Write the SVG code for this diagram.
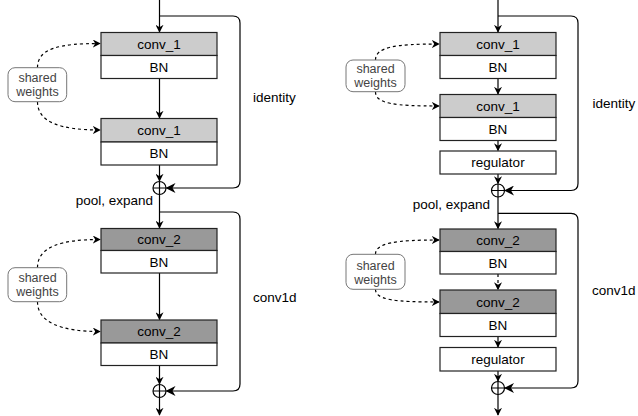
<svg xmlns="http://www.w3.org/2000/svg" width="638" height="416" viewBox="0 0 638 416">
<defs>
<marker id="arr" viewBox="0 0 10 10" refX="9" refY="5" markerWidth="8" markerHeight="8" markerUnits="userSpaceOnUse" orient="auto">
<path d="M0,0 L10,5 L0,10 L3,5 z" fill="#000"/>
</marker>
<marker id="arrBig" viewBox="0 0 10 10" refX="9" refY="5" markerWidth="10" markerHeight="10" markerUnits="userSpaceOnUse" orient="auto">
<path d="M0,0 L10,5 L0,10 L3,5 z" fill="#000"/>
</marker>
</defs>
<style>
.t{font-family:"Liberation Sans",Arial,Helvetica,sans-serif;font-size:13.5px;fill:#000;}
.c{text-anchor:middle;dominant-baseline:central;}
.sw{font-family:"Liberation Sans",Arial,Helvetica,sans-serif;font-size:12.5px;fill:#444;text-anchor:middle;}
.l{fill:none;stroke:#000;stroke-width:1.2;}
.d{fill:none;stroke:#000;stroke-width:1.2;stroke-dasharray:3 3;}
.g1{fill:#cccccc;stroke:#222;stroke-width:1.2;}
.g2{fill:#999999;stroke:#222;stroke-width:1.2;}
.w{fill:#fff;stroke:#222;stroke-width:1.2;}
.swb{fill:#fff;stroke:#777;stroke-width:1;}
.sum{fill:#fff;stroke:#000;stroke-width:1.2;}
</style>

<g id="connectors">
<path class="l" d="M159.5,0 V32" marker-end="url(#arr)"/>
<path class="l" d="M159.5,16 H233 Q240,16 240,23 V181 Q240,188 233,188 H166.5" marker-end="url(#arrBig)"/>
<path class="l" d="M159.5,78.5 V118" marker-end="url(#arr)"/>
<path class="l" d="M159.5,165 V181" marker-end="url(#arr)"/>
<path class="l" d="M159.5,194.5 V228" marker-end="url(#arr)"/>
<path class="l" d="M159.5,212 H233 Q240,212 240,219 V384 Q240,391 233,391 H166.5" marker-end="url(#arrBig)"/>
<path class="l" d="M159.5,273 V319.5" marker-end="url(#arr)"/>
<path class="l" d="M159.5,365.5 V384" marker-end="url(#arr)"/>
<path class="l" d="M159.5,397.5 V415" marker-end="url(#arr)"/>
<path class="d" d="M37.5,67.7 C37.5,48 60,43.5 100,43.5" marker-end="url(#arr)"/>
<path class="d" d="M37.5,101.7 C37.5,122 60,130 100,130" marker-end="url(#arr)"/>
<path class="d" d="M37.5,267.7 C37.5,247 60,239.5 100,239.5" marker-end="url(#arr)"/>
<path class="d" d="M37.5,301.7 C37.5,322 60,331.5 100,331.5" marker-end="url(#arr)"/>
<path class="l" d="M498,0 V32" marker-end="url(#arr)"/>
<path class="l" d="M498,16 H571 Q578,16 578,23 V183.5 Q578,190.5 571,190.5 H505" marker-end="url(#arrBig)"/>
<path class="l" d="M498,78.5 V94" marker-end="url(#arr)"/>
<path class="l" d="M498,140.5 V150.5" marker-end="url(#arr)"/>
<path class="l" d="M498,174 V183.5" marker-end="url(#arr)"/>
<path class="l" d="M498,197 V228.5" marker-end="url(#arr)"/>
<path class="l" d="M498,213.3 H571 Q578,213.3 578,220.3 V381 Q578,388 571,388 H505" marker-end="url(#arrBig)"/>
<path class="d" d="M498,274 V289.5" marker-end="url(#arr)"/>
<path class="l" d="M498,336.5 V347" marker-end="url(#arr)"/>
<path class="l" d="M498,371 V381" marker-end="url(#arr)"/>
<path class="l" d="M498,394.5 V415" marker-end="url(#arr)"/>
<path class="d" d="M375.5,60 C375.5,47 395,44 439,44" marker-end="url(#arr)"/>
<path class="d" d="M375.5,91.7 C375.5,104 395,106 439,106" marker-end="url(#arr)"/>
<path class="d" d="M375.5,254.3 C375.5,243 395,240 439,240" marker-end="url(#arr)"/>
<path class="d" d="M375.5,289.3 C375.5,300 395,302 439,302" marker-end="url(#arr)"/>
</g>

<g id="L_conv1a">
<rect class="g1" x="101" y="32.5" width="116" height="23"/>
<rect class="w" x="101" y="55.5" width="116" height="23"/>
<text class="t c" x="159" y="44">conv_1</text>
<text class="t c" x="159" y="67">BN</text>
</g>
<g id="L_conv1b">
<rect class="g1" x="101" y="118.5" width="116" height="23.5"/>
<rect class="w" x="101" y="142" width="116" height="23"/>
<text class="t c" x="159" y="130">conv_1</text>
<text class="t c" x="159" y="153.5">BN</text>
</g>
<g id="L_sum1">
<circle class="sum" cx="159.5" cy="188" r="6.5"/>
<path class="l" d="M153,188 H166 M159.5,181.5 V194.5"/>
</g>
<g id="L_conv2a">
<rect class="g2" x="101" y="228.5" width="116" height="22"/>
<rect class="w" x="101" y="250.5" width="116" height="22.5"/>
<text class="t c" x="159" y="239.5">conv_2</text>
<text class="t c" x="159" y="262">BN</text>
</g>
<g id="L_conv2b">
<rect class="g2" x="101" y="320" width="116" height="23"/>
<rect class="w" x="101" y="343" width="116" height="22.5"/>
<text class="t c" x="159" y="331.5">conv_2</text>
<text class="t c" x="159" y="354.5">BN</text>
</g>
<g id="L_sum2">
<circle class="sum" cx="159.5" cy="391" r="6.5"/>
<path class="l" d="M153,391 H166 M159.5,384.5 V397.5"/>
</g>
<g id="L_sw1">
<rect class="swb" x="8" y="67.7" width="58.7" height="34" rx="7"/>
<text class="sw" x="37.5" y="82">shared</text>
<text class="sw" x="37.5" y="96">weights</text>
</g>
<g id="L_sw2">
<rect class="swb" x="8" y="267.7" width="58.7" height="34" rx="7"/>
<text class="sw" x="37.5" y="282">shared</text>
<text class="sw" x="37.5" y="296">weights</text>
</g>
<g id="L_labels">
<text class="t" x="253" y="102">identity</text>
<text class="t" x="253" y="302">conv1d</text>
<text class="t" x="153" y="205" text-anchor="end">pool, expand</text>
</g>

<g id="R_conv1a">
<rect class="g1" x="440" y="32.5" width="116" height="23"/>
<rect class="w" x="440" y="55.5" width="116" height="23"/>
<text class="t c" x="498" y="44">conv_1</text>
<text class="t c" x="498" y="67">BN</text>
</g>
<g id="R_conv1b">
<rect class="g1" x="440" y="94.5" width="116" height="23"/>
<rect class="w" x="440" y="117.5" width="116" height="23"/>
<text class="t c" x="498" y="106">conv_1</text>
<text class="t c" x="498" y="129">BN</text>
</g>
<g id="R_reg1">
<rect class="w" x="440" y="151" width="116" height="23"/>
<text class="t c" x="498" y="162.5">regulator</text>
</g>
<g id="R_sum1">
<circle class="sum" cx="498" cy="190.5" r="6.5"/>
<path class="l" d="M491.5,190.5 H504.5 M498,184 V197"/>
</g>
<g id="R_conv2a">
<rect class="g2" x="440" y="229" width="116" height="22.5"/>
<rect class="w" x="440" y="251.5" width="116" height="22.5"/>
<text class="t c" x="498" y="240">conv_2</text>
<text class="t c" x="498" y="263">BN</text>
</g>
<g id="R_conv2b">
<rect class="g2" x="440" y="290" width="116" height="23.5"/>
<rect class="w" x="440" y="313.5" width="116" height="23"/>
<text class="t c" x="498" y="302">conv_2</text>
<text class="t c" x="498" y="325">BN</text>
</g>
<g id="R_reg2">
<rect class="w" x="440" y="347.5" width="116" height="23.5"/>
<text class="t c" x="498" y="359">regulator</text>
</g>
<g id="R_sum2">
<circle class="sum" cx="498" cy="388" r="6.5"/>
<path class="l" d="M491.5,388 H504.5 M498,381.5 V394.5"/>
</g>
<g id="R_sw1">
<rect class="swb" x="346" y="60" width="59" height="31.7" rx="7"/>
<text class="sw" x="375.5" y="73">shared</text>
<text class="sw" x="375.5" y="87">weights</text>
</g>
<g id="R_sw2">
<rect class="swb" x="346" y="254.3" width="59" height="35" rx="7"/>
<text class="sw" x="375.5" y="269.5">shared</text>
<text class="sw" x="375.5" y="283.5">weights</text>
</g>
<g id="R_labels">
<text class="t" x="592.5" y="108">identity</text>
<text class="t" x="592" y="295">conv1d</text>
<text class="t" x="490" y="209" text-anchor="end">pool, expand</text>
</g>
</svg>
